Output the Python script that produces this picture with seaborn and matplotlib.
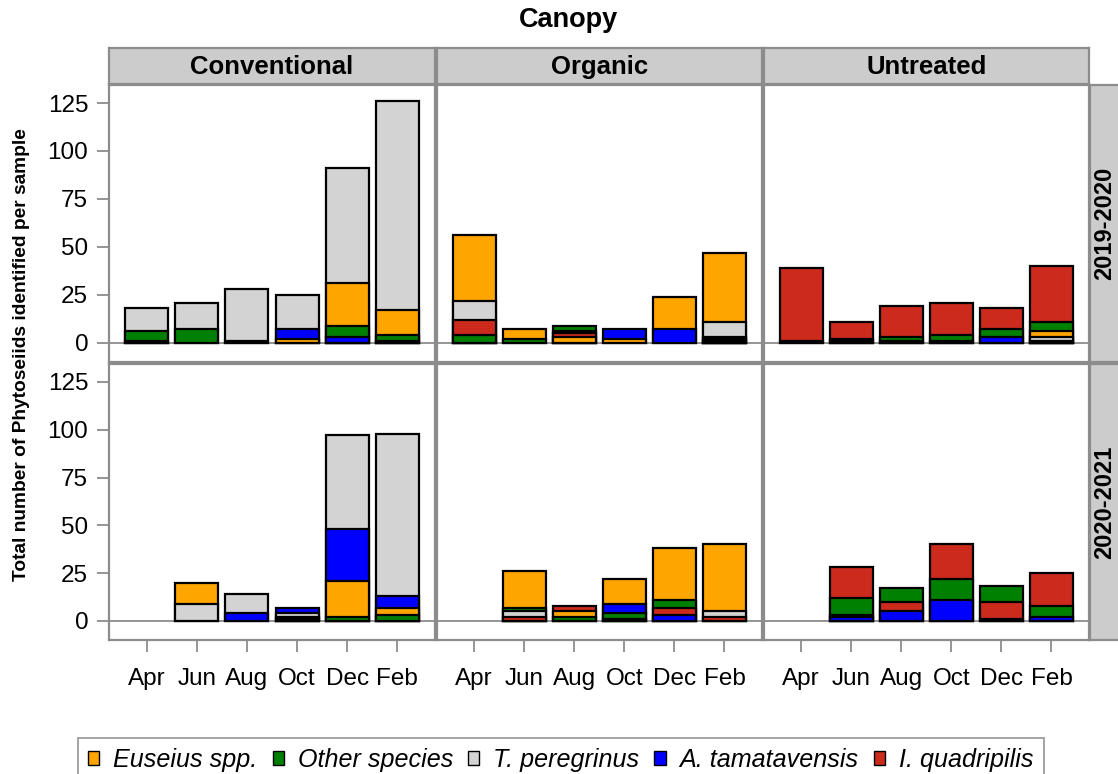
import matplotlib
matplotlib.use("Agg")
import matplotlib.pyplot as plt
from matplotlib.patches import Patch
import seaborn as sns
import pandas as pd

# ---- categories -------------------------------------------------------
months = ["Apr", "Jun", "Aug", "Oct", "Dec", "Feb"]
treatments = ["Conventional", "Organic", "Untreated"]
seasons = ["2019-2020", "2020-2021"]

species_codes = ["E", "O", "T", "A", "I"]
species_names = ["Euseius spp.", "Other species", "T. peregrinus",
                 "A. tamatavensis", "I. quadripilis"]
species_colors = ["#FFA500", "#008000", "#D3D3D3", "#0000FF", "#CD2A1E"]

# ---- counts per sample: month -> stacked segments (species, count), bottom to top
conventional_1920 = {
    "Apr": [("E", 1), ("O", 5), ("T", 12)],
    "Jun": [("O", 7), ("T", 14)],
    "Aug": [("O", 1), ("T", 27)],
    "Oct": [("E", 2), ("A", 5), ("T", 18)],
    "Dec": [("A", 3), ("O", 6), ("E", 22), ("T", 60)],
    "Feb": [("A", 1), ("O", 3), ("E", 13), ("T", 109)],
}
organic_1920 = {
    "Apr": [("O", 4), ("I", 8), ("T", 10), ("E", 34)],
    "Jun": [("O", 2), ("E", 5)],
    "Aug": [("E", 3), ("I", 2), ("T", 1), ("O", 3)],
    "Oct": [("E", 2), ("A", 5)],
    "Dec": [("A", 7), ("E", 17)],
    "Feb": [("I", 1), ("O", 1), ("A", 1), ("T", 8), ("E", 36)],
}
untreated_1920 = {
    "Apr": [("T", 1), ("I", 38)],
    "Jun": [("T", 1), ("O", 1), ("I", 9)],
    "Aug": [("T", 1), ("O", 2), ("I", 16)],
    "Oct": [("A", 1), ("O", 3), ("I", 17)],
    "Dec": [("A", 3), ("O", 4), ("I", 11)],
    "Feb": [("A", 1), ("T", 2), ("E", 3), ("O", 5), ("I", 29)],
}
conventional_2021 = {
    "Jun": [("T", 9), ("E", 11)],
    "Aug": [("A", 4), ("T", 10)],
    "Oct": [("O", 1), ("I", 1), ("T", 2), ("A", 3)],
    "Dec": [("O", 2), ("E", 19), ("A", 27), ("T", 49)],
    "Feb": [("O", 3), ("E", 4), ("A", 6), ("T", 85)],
}
organic_2021 = {
    "Jun": [("I", 2), ("T", 3), ("O", 2), ("E", 19)],
    "Aug": [("O", 2), ("E", 3), ("I", 3)],
    "Oct": [("I", 1), ("O", 3), ("A", 5), ("E", 13)],
    "Dec": [("A", 3), ("I", 4), ("O", 4), ("E", 27)],
    "Feb": [("I", 2), ("T", 3), ("E", 35)],
}
untreated_2021 = {
    "Jun": [("A", 2), ("T", 1), ("O", 9), ("I", 16)],
    "Aug": [("A", 5), ("I", 5), ("O", 7)],
    "Oct": [("A", 11), ("O", 11), ("I", 18)],
    "Dec": [("A", 1), ("I", 9), ("O", 8)],
    "Feb": [("A", 2), ("O", 6), ("I", 17)],
}

panels = {
    ("2019-2020", "Conventional"): conventional_1920,
    ("2019-2020", "Organic"): organic_1920,
    ("2019-2020", "Untreated"): untreated_1920,
    ("2020-2021", "Conventional"): conventional_2021,
    ("2020-2021", "Organic"): organic_2021,
    ("2020-2021", "Untreated"): untreated_2021,
}

# long table of segments with cumulative tops
rows = []
for (season, trt), stacks in panels.items():
    for month, segs in stacks.items():
        top = 0
        for level, (code, n) in enumerate(segs):
            top += n
            rows.append(dict(season=season, treatment=trt, month=month,
                             species=species_names[species_codes.index(code)],
                             count=n, top=top, level=level))
df = pd.DataFrame(rows)

# ---- styling ----------------------------------------------------------
sns.set_theme(style="white")
plt.rcParams["font.family"] = ["Liberation Sans", "DejaVu Sans"]
plt.rcParams["text.color"] = "black"
plt.rcParams["axes.labelcolor"] = "black"
plt.rcParams["xtick.labelcolor"] = "black"
plt.rcParams["ytick.labelcolor"] = "black"

W, H = 1118, 774
fig = plt.figure(figsize=(W / 100, H / 100), dpi=100)
fig.patch.set_facecolor("white")

FRAME = "#8C8C8C"
STRIP = "#CCCCCC"
palette = dict(zip(species_names, species_colors))


def box(x0, y0, x1, y1):
    return [x0 / W, 1 - y1 / H, (x1 - x0) / W, (y1 - y0) / H]


col_x = [(109, 435), (436.5, 762), (763.5, 1089)]
row_y = [(85, 362), (364, 640)]

for ri, season in enumerate(seasons):
    for ci, trt in enumerate(treatments):
        x0, x1 = col_x[ci]
        y0, y1 = row_y[ri]
        ax = fig.add_axes(box(x0, y0, x1, y1))
        ax.axhline(0, color=FRAME, lw=1.3, zorder=0.5)
        sub = df[(df.season == season) & (df.treatment == trt)]
        # tallest layers first so each lower segment paints over the one above
        for level in sorted(sub.level.unique(), reverse=True):
            layer = sub[sub.level == level]
            sns.barplot(data=layer, x="month", y="top", hue="species",
                        order=months, hue_order=species_names, palette=palette,
                        dodge=False, width=0.86, saturation=1, errorbar=None,
                        edgecolor="black", linewidth=1.6, legend=False, ax=ax)
        ax.set_xlim(-0.75, 5.75)
        ax.set_ylim(-10, 134.4)
        ax.set_xlabel("")
        ax.set_ylabel("")
        ax.set_facecolor("white")
        for sp in ax.spines.values():
            sp.set_color(FRAME)
            sp.set_linewidth(1.6)
        ax.tick_params(colors=FRAME, labelcolor="black", width=1.3,
                       labelsize=17.5, direction="out")
        ax.set_xticks(range(len(months)))
        if ri == len(seasons) - 1:
            ax.set_xticklabels(months)
            ax.tick_params(axis="x", length=8.5, pad=12, bottom=True)
        else:
            ax.tick_params(axis="x", bottom=False, labelbottom=False)
        ax.set_yticks([0, 25, 50, 75, 100, 125])
        if ci == 0:
            ax.tick_params(axis="y", length=9, pad=6, left=True)
        else:
            ax.tick_params(axis="y", left=False, labelleft=False)

        # column strip above the top row
        if ri == 0:
            sax = fig.add_axes(box(x0, 48, x1, 84))
            sax.set_facecolor(STRIP)
            sax.set_xticks([]); sax.set_yticks([])
            for sp in sax.spines.values():
                sp.set_color(FRAME); sp.set_linewidth(1.6)
            sax.text(0.5, 0.47, trt, ha="center", va="center", color="black",
                     fontsize=18.5, fontweight="bold", transform=sax.transAxes)

    # row strip on the right side
    y0, y1 = row_y[ri]
    rax = fig.add_axes(box(1090, y0, 1135, y1))
    rax.set_facecolor(STRIP)
    rax.set_xticks([]); rax.set_yticks([])
    for sp in rax.spines.values():
        sp.set_color(FRAME); sp.set_linewidth(1.6)
    fig.text(1105 / W, 1 - (y0 + y1) / 2 / H, season, rotation=90,
             ha="center", va="center", fontsize=17, fontweight="bold",
             color="black")

fig.text(568 / W, 1 - 20 / H, "Canopy", ha="center", va="center",
         fontsize=19.5, fontweight="bold", color="black")
fig.text(22 / W, 1 - 355 / H,
         "Total number of Phytoseiids identified per sample",
         rotation=90, ha="center", va="center", fontsize=13.8,
         fontweight="bold", color="black")

handles = [Patch(facecolor=c, edgecolor="black", linewidth=1)
           for c in species_colors]
leg = fig.legend(handles, species_names, loc="upper left",
                 bbox_to_anchor=(78 / W, 1 - 738 / H), ncol=5,
                 prop=dict(size=18.1, style="italic"), frameon=True,
                 fancybox=False, handlelength=0.45, handleheight=0.45,
                 handletextpad=0.55, columnspacing=0.6, borderpad=0.4,
                 borderaxespad=0)
for t in leg.get_texts():
    t.set_color("black")
leg.get_frame().set_edgecolor(FRAME)
leg.get_frame().set_linewidth(1.4)

fig.savefig("out.png", dpi=100, facecolor="white")
